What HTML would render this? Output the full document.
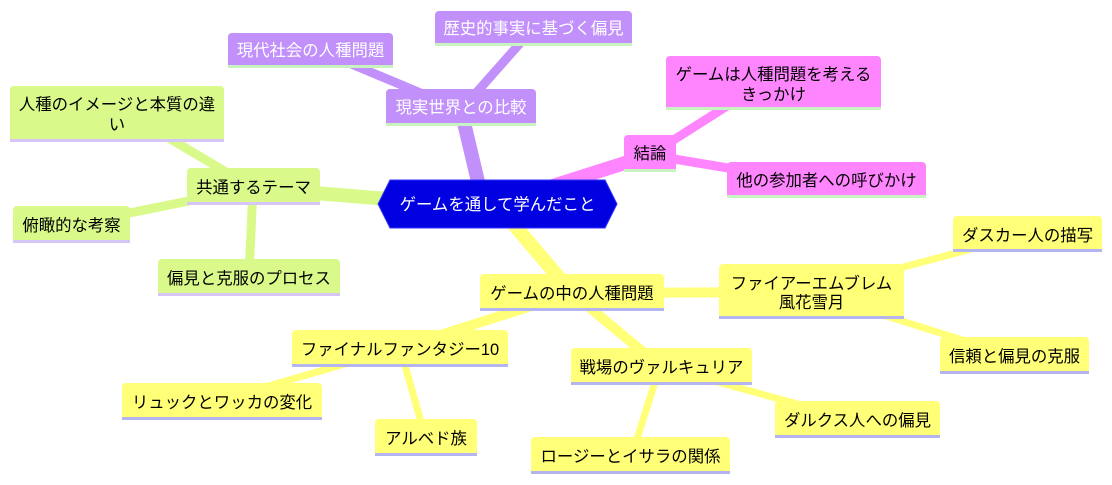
<!DOCTYPE html>
<html><head><meta charset="utf-8"><style>
html,body{margin:0;padding:0;background:#fff;width:1112px;height:485px;overflow:hidden}
text{font-family:"Liberation Sans","Noto Sans CJK JP",sans-serif;font-size:16.4px}
</style></head><body>
<svg width="1112" height="485" xmlns="http://www.w3.org/2000/svg">
<g stroke-linecap="round" fill="none">
<line x1="480" y1="190" x2="461" y2="110" stroke="#c190fa" stroke-width="14"/>
<line x1="461" y1="110" x2="330" y2="55" stroke="#c190fa" stroke-width="9"/>
<line x1="461" y1="110" x2="530" y2="32" stroke="#c190fa" stroke-width="9"/>
<line x1="540" y1="190" x2="650" y2="155" stroke="#ff85ff" stroke-width="14"/>
<line x1="650" y1="155" x2="760" y2="85" stroke="#ff85ff" stroke-width="9"/>
<line x1="650" y1="155" x2="800" y2="180" stroke="#ff85ff" stroke-width="9"/>
<line x1="400" y1="200" x2="253" y2="188" stroke="#d9fa8a" stroke-width="14"/>
<line x1="253" y1="188" x2="130" y2="115" stroke="#d9fa8a" stroke-width="9"/>
<line x1="253" y1="188" x2="80" y2="223" stroke="#d9fa8a" stroke-width="9"/>
<line x1="253" y1="188" x2="249" y2="275" stroke="#d9fa8a" stroke-width="9"/>
<line x1="510" y1="220" x2="572" y2="293" stroke="#ffff78" stroke-width="14"/>
<line x1="572" y1="293" x2="810" y2="292" stroke="#ffff78" stroke-width="10"/>
<line x1="810" y1="292" x2="1020" y2="236" stroke="#ffff78" stroke-width="7"/>
<line x1="810" y1="292" x2="1010" y2="355" stroke="#ffff78" stroke-width="7"/>
<line x1="572" y1="293" x2="400" y2="348" stroke="#ffff78" stroke-width="10"/>
<line x1="400" y1="348" x2="220" y2="400" stroke="#ffff78" stroke-width="7"/>
<line x1="400" y1="348" x2="425" y2="436" stroke="#ffff78" stroke-width="7"/>
<line x1="572" y1="293" x2="660" y2="366" stroke="#ffff78" stroke-width="10"/>
<line x1="660" y1="366" x2="855" y2="420" stroke="#ffff78" stroke-width="7"/>
<line x1="660" y1="366" x2="632" y2="455" stroke="#ffff78" stroke-width="7"/>
</g>
<polygon points="378,204 390,180 605,180 617,204 605,228 390,228" fill="#0000e0" stroke="#3030ff" stroke-width="1"/>
<text x="497.5" y="210" fill="#fff" text-anchor="middle">ゲームを通して学んだこと</text>
<g>
<rect x="386" y="89" width="150" height="37" rx="4" fill="#c190fa"/><rect x="386" y="123" width="150" height="3" fill="#c8f2c0"/>
<text x="461" y="113" fill="#fff" text-anchor="middle">現実世界との比較</text>
<rect x="228" y="33" width="165" height="35" rx="4" fill="#c190fa"/><rect x="228" y="65" width="165" height="3" fill="#c8f2c0"/>
<text x="310.5" y="56" fill="#fff" text-anchor="middle">現代社会の人種問題</text>
<rect x="435" y="11" width="197" height="35" rx="4" fill="#c190fa"/><rect x="435" y="43" width="197" height="3" fill="#c8f2c0"/>
<text x="533.5" y="34" fill="#fff" text-anchor="middle">歴史的事実に基づく偏見</text>

<rect x="624" y="135" width="52" height="37" rx="4" fill="#ff85ff"/><rect x="624" y="169" width="52" height="3" fill="#c8f2c0"/>
<text x="650" y="159" fill="#000" text-anchor="middle">結論</text>
<rect x="666" y="56" width="215" height="54" rx="4" fill="#ff85ff"/><rect x="666" y="107" width="215" height="3" fill="#c8f2c0"/>
<text x="773.5" y="80" fill="#000" text-anchor="middle">ゲームは人種問題を考える</text>
<text x="773.5" y="100" fill="#000" text-anchor="middle">きっかけ</text>
<rect x="727" y="162" width="199" height="36" rx="4" fill="#ff85ff"/><rect x="727" y="195" width="199" height="3" fill="#c8f2c0"/>
<text x="826.5" y="186" fill="#000" text-anchor="middle">他の参加者への呼びかけ</text>

<rect x="187" y="168" width="133" height="37" rx="4" fill="#d9fa8a"/><rect x="187" y="202" width="133" height="3" fill="#d6c6f7"/>
<text x="253.5" y="193" fill="#000" text-anchor="middle">共通するテーマ</text>
<rect x="10" y="86" width="214" height="56" rx="4" fill="#d9fa8a"/><rect x="10" y="139" width="214" height="3" fill="#d6c6f7"/>
<text x="117" y="110" fill="#000" text-anchor="middle">人種のイメージと本質の違</text>
<text x="117" y="130" fill="#000" text-anchor="middle">い</text>
<rect x="13" y="206" width="117" height="37" rx="4" fill="#d9fa8a"/><rect x="13" y="240" width="117" height="3" fill="#d6c6f7"/>
<text x="71.5" y="231" fill="#000" text-anchor="middle">俯瞰的な考察</text>
<rect x="158" y="259" width="182" height="37" rx="4" fill="#d9fa8a"/><rect x="158" y="293" width="182" height="3" fill="#d6c6f7"/>
<text x="249" y="284" fill="#000" text-anchor="middle">偏見と克服のプロセス</text>

<rect x="480" y="274" width="184" height="37" rx="4" fill="#ffff78"/><rect x="480" y="308" width="184" height="3" fill="#b4b4f0"/>
<text x="572" y="299" fill="#000" text-anchor="middle">ゲームの中の人種問題</text>
<rect x="719" y="264" width="185" height="55" rx="4" fill="#ffff78"/><rect x="719" y="316" width="185" height="3" fill="#b4b4f0"/>
<text x="811.5" y="289" fill="#000" text-anchor="middle">ファイアーエムブレム</text>
<text x="811.5" y="308" fill="#000" text-anchor="middle">風花雪月</text>
<rect x="953" y="216" width="149" height="36" rx="4" fill="#ffff78"/><rect x="953" y="249" width="149" height="3" fill="#b4b4f0"/>
<text x="1027.5" y="241" fill="#000" text-anchor="middle">ダスカー人の描写</text>
<rect x="940" y="337" width="149" height="37" rx="4" fill="#ffff78"/><rect x="940" y="371" width="149" height="3" fill="#b4b4f0"/>
<text x="1014.5" y="362" fill="#000" text-anchor="middle">信頼と偏見の克服</text>
<rect x="292" y="330" width="216" height="37" rx="4" fill="#ffff78"/><rect x="292" y="364" width="216" height="3" fill="#b4b4f0"/>
<text x="400" y="355" fill="#000" text-anchor="middle">ファイナルファンタジー10</text>
<rect x="122" y="383" width="200" height="37" rx="4" fill="#ffff78"/><rect x="122" y="417" width="200" height="3" fill="#b4b4f0"/>
<text x="222" y="408" fill="#000" text-anchor="middle">リュックとワッカの変化</text>
<rect x="375" y="419" width="102" height="37" rx="4" fill="#ffff78"/><rect x="375" y="453" width="102" height="3" fill="#b4b4f0"/>
<text x="426" y="444" fill="#000" text-anchor="middle">アルベド族</text>
<rect x="571" y="348" width="181" height="37" rx="4" fill="#ffff78"/><rect x="571" y="382" width="181" height="3" fill="#b4b4f0"/>
<text x="661.5" y="373" fill="#000" text-anchor="middle">戦場のヴァルキュリア</text>
<rect x="775" y="401" width="165" height="37" rx="4" fill="#ffff78"/><rect x="775" y="435" width="165" height="3" fill="#b4b4f0"/>
<text x="857.5" y="426" fill="#000" text-anchor="middle">ダルクス人への偏見</text>
<rect x="531" y="437" width="199" height="37" rx="4" fill="#ffff78"/><rect x="531" y="471" width="199" height="3" fill="#b4b4f0"/>
<text x="630.5" y="462" fill="#000" text-anchor="middle">ロージーとイサラの関係</text>
</g>
</svg>
</body></html>
